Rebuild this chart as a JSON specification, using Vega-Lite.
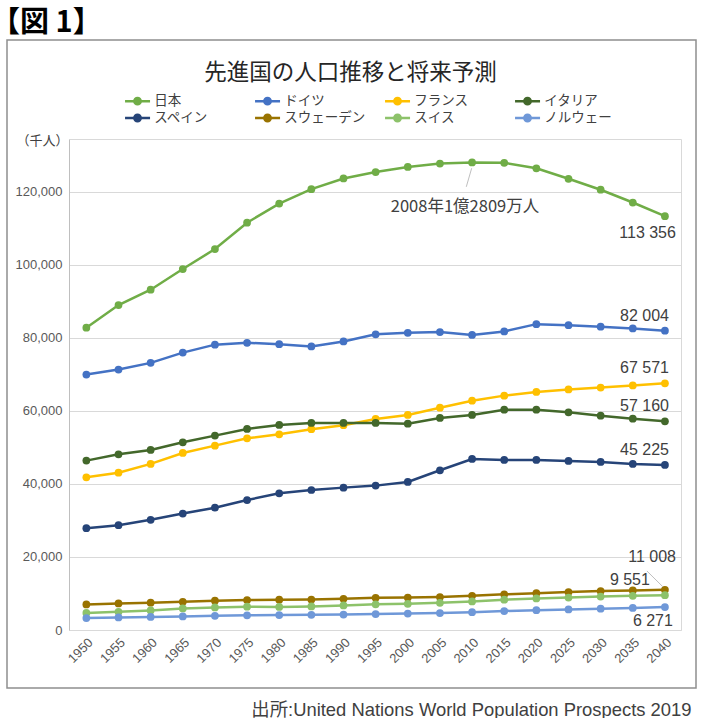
{
  "$schema": "https://vega.github.io/schema/vega-lite/v6.json",
  "width": 689,
  "height": 648,
  "autosize": "none",
  "padding": {"left": 7, "top": 40, "right": 7, "bottom": 30},
  "background": "white",
  "config": {
    "view": {"stroke": "#8f8f8f", "strokeWidth": 1.5},
    "font": "Noto Sans CJK JP"
  },
  "title": {
    "text": "【図 1】",
    "anchor": "start",
    "frame": "group",
    "font": "Noto Sans CJK JP",
    "fontSize": 29,
    "fontWeight": "bold",
    "color": "#000000",
    "baseline": "middle",
    "offset": 19,
    "dx": -16,
    "dy": 31
  },
  "datasets": {
    "pop": [
      {"country": "日本", "year": 1950, "value": 82802}, {"country": "日本", "year": 1955, "value": 89016}, {"country": "日本", "year": 1960, "value": 93216}, {"country": "日本", "year": 1965, "value": 98883}, {"country": "日本", "year": 1970, "value": 104345}, {"country": "日本", "year": 1975, "value": 111574}, {"country": "日本", "year": 1980, "value": 116807}, {"country": "日本", "year": 1985, "value": 120755}, {"country": "日本", "year": 1990, "value": 123686}, {"country": "日本", "year": 1995, "value": 125439}, {"country": "日本", "year": 2000, "value": 126843}, {"country": "日本", "year": 2005, "value": 127773}, {"country": "日本", "year": 2010, "value": 128070}, {"country": "日本", "year": 2015, "value": 127985}, {"country": "日本", "year": 2020, "value": 126476}, {"country": "日本", "year": 2025, "value": 123600}, {"country": "日本", "year": 2030, "value": 120600}, {"country": "日本", "year": 2035, "value": 117100}, {"country": "日本", "year": 2040, "value": 113356},
      {"country": "ドイツ", "year": 1950, "value": 69966}, {"country": "ドイツ", "year": 1955, "value": 71350}, {"country": "ドイツ", "year": 1960, "value": 73180}, {"country": "ドイツ", "year": 1965, "value": 75991}, {"country": "ドイツ", "year": 1970, "value": 78169}, {"country": "ドイツ", "year": 1975, "value": 78674}, {"country": "ドイツ", "year": 1980, "value": 78289}, {"country": "ドイツ", "year": 1985, "value": 77685}, {"country": "ドイツ", "year": 1990, "value": 79054}, {"country": "ドイツ", "year": 1995, "value": 81000}, {"country": "ドイツ", "year": 2000, "value": 81401}, {"country": "ドイツ", "year": 2005, "value": 81602}, {"country": "ドイツ", "year": 2010, "value": 80827}, {"country": "ドイツ", "year": 2015, "value": 81787}, {"country": "ドイツ", "year": 2020, "value": 83784}, {"country": "ドイツ", "year": 2025, "value": 83500}, {"country": "ドイツ", "year": 2030, "value": 83100}, {"country": "ドイツ", "year": 2035, "value": 82600}, {"country": "ドイツ", "year": 2040, "value": 82004},
      {"country": "フランス", "year": 1950, "value": 41842}, {"country": "フランス", "year": 1955, "value": 43100}, {"country": "フランス", "year": 1960, "value": 45500}, {"country": "フランス", "year": 1965, "value": 48500}, {"country": "フランス", "year": 1970, "value": 50500}, {"country": "フランス", "year": 1975, "value": 52500}, {"country": "フランス", "year": 1980, "value": 53600}, {"country": "フランス", "year": 1985, "value": 55000}, {"country": "フランス", "year": 1990, "value": 56100}, {"country": "フランス", "year": 1995, "value": 57800}, {"country": "フランス", "year": 2000, "value": 58900}, {"country": "フランス", "year": 2005, "value": 60900}, {"country": "フランス", "year": 2010, "value": 62800}, {"country": "フランス", "year": 2015, "value": 64200}, {"country": "フランス", "year": 2020, "value": 65200}, {"country": "フランス", "year": 2025, "value": 65900}, {"country": "フランス", "year": 2030, "value": 66400}, {"country": "フランス", "year": 2035, "value": 67000}, {"country": "フランス", "year": 2040, "value": 67571},
      {"country": "イタリア", "year": 1950, "value": 46400}, {"country": "イタリア", "year": 1955, "value": 48140}, {"country": "イタリア", "year": 1960, "value": 49320}, {"country": "イタリア", "year": 1965, "value": 51420}, {"country": "イタリア", "year": 1970, "value": 53250}, {"country": "イタリア", "year": 1975, "value": 55070}, {"country": "イタリア", "year": 1980, "value": 56170}, {"country": "イタリア", "year": 1985, "value": 56720}, {"country": "イタリア", "year": 1990, "value": 56720}, {"country": "イタリア", "year": 1995, "value": 56720}, {"country": "イタリア", "year": 2000, "value": 56500}, {"country": "イタリア", "year": 2005, "value": 58100}, {"country": "イタリア", "year": 2010, "value": 58900}, {"country": "イタリア", "year": 2015, "value": 60360}, {"country": "イタリア", "year": 2020, "value": 60360}, {"country": "イタリア", "year": 2025, "value": 59640}, {"country": "イタリア", "year": 2030, "value": 58720}, {"country": "イタリア", "year": 2035, "value": 57900}, {"country": "イタリア", "year": 2040, "value": 57160},
      {"country": "スペイン", "year": 1950, "value": 27900}, {"country": "スペイン", "year": 1955, "value": 28700}, {"country": "スペイン", "year": 1960, "value": 30200}, {"country": "スペイン", "year": 1965, "value": 31900}, {"country": "スペイン", "year": 1970, "value": 33500}, {"country": "スペイン", "year": 1975, "value": 35600}, {"country": "スペイン", "year": 1980, "value": 37450}, {"country": "スペイン", "year": 1985, "value": 38350}, {"country": "スペイン", "year": 1990, "value": 39000}, {"country": "スペイン", "year": 1995, "value": 39550}, {"country": "スペイン", "year": 2000, "value": 40550}, {"country": "スペイン", "year": 2005, "value": 43750}, {"country": "スペイン", "year": 2010, "value": 46850}, {"country": "スペイン", "year": 2015, "value": 46580}, {"country": "スペイン", "year": 2020, "value": 46580}, {"country": "スペイン", "year": 2025, "value": 46300}, {"country": "スペイン", "year": 2030, "value": 46030}, {"country": "スペイン", "year": 2035, "value": 45500}, {"country": "スペイン", "year": 2040, "value": 45225},
      {"country": "スウェーデン", "year": 1950, "value": 7010}, {"country": "スウェーデン", "year": 1955, "value": 7262}, {"country": "スウェーデン", "year": 1960, "value": 7480}, {"country": "スウェーデン", "year": 1965, "value": 7734}, {"country": "スウェーデン", "year": 1970, "value": 8043}, {"country": "スウェーデン", "year": 1975, "value": 8193}, {"country": "スウェーデン", "year": 1980, "value": 8311}, {"country": "スウェーデン", "year": 1985, "value": 8351}, {"country": "スウェーデン", "year": 1990, "value": 8559}, {"country": "スウェーデン", "year": 1995, "value": 8827}, {"country": "スウェーデン", "year": 2000, "value": 8872}, {"country": "スウェーデン", "year": 2005, "value": 9030}, {"country": "スウェーデン", "year": 2010, "value": 9382}, {"country": "スウェーデン", "year": 2015, "value": 9765}, {"country": "スウェーデン", "year": 2020, "value": 10099}, {"country": "スウェーデン", "year": 2025, "value": 10400}, {"country": "スウェーデン", "year": 2030, "value": 10650}, {"country": "スウェーデン", "year": 2035, "value": 10850}, {"country": "スウェーデン", "year": 2040, "value": 11008},
      {"country": "スイス", "year": 1950, "value": 4668}, {"country": "スイス", "year": 1955, "value": 4979}, {"country": "スイス", "year": 1960, "value": 5363}, {"country": "スイス", "year": 1965, "value": 5912}, {"country": "スイス", "year": 1970, "value": 6181}, {"country": "スイス", "year": 1975, "value": 6374}, {"country": "スイス", "year": 1980, "value": 6319}, {"country": "スイス", "year": 1985, "value": 6471}, {"country": "スイス", "year": 1990, "value": 6716}, {"country": "スイス", "year": 1995, "value": 7038}, {"country": "スイス", "year": 2000, "value": 7184}, {"country": "スイス", "year": 2005, "value": 7437}, {"country": "スイス", "year": 2010, "value": 7825}, {"country": "スイス", "year": 2015, "value": 8297}, {"country": "スイス", "year": 2020, "value": 8655}, {"country": "スイス", "year": 2025, "value": 8900}, {"country": "スイス", "year": 2030, "value": 9150}, {"country": "スイス", "year": 2035, "value": 9370}, {"country": "スイス", "year": 2040, "value": 9551},
      {"country": "ノルウェー", "year": 1950, "value": 3265}, {"country": "ノルウェー", "year": 1955, "value": 3427}, {"country": "ノルウェー", "year": 1960, "value": 3581}, {"country": "ノルウェー", "year": 1965, "value": 3723}, {"country": "ノルウェー", "year": 1970, "value": 3877}, {"country": "ノルウェー", "year": 1975, "value": 4007}, {"country": "ノルウェー", "year": 1980, "value": 4086}, {"country": "ノルウェー", "year": 1985, "value": 4153}, {"country": "ノルウェー", "year": 1990, "value": 4241}, {"country": "ノルウェー", "year": 1995, "value": 4359}, {"country": "ノルウェー", "year": 2000, "value": 4491}, {"country": "ノルウェー", "year": 2005, "value": 4624}, {"country": "ノルウェー", "year": 2010, "value": 4889}, {"country": "ノルウェー", "year": 2015, "value": 5200}, {"country": "ノルウェー", "year": 2020, "value": 5421}, {"country": "ノルウェー", "year": 2025, "value": 5620}, {"country": "ノルウェー", "year": 2030, "value": 5830}, {"country": "ノルウェー", "year": 2035, "value": 6060}, {"country": "ノルウェー", "year": 2040, "value": 6271}
    ]
  },
  "encoding": {
    "x": {"field": "year", "type": "quantitative", "scale": {"domain": [1947.3, 2042.5], "range": [62, 674], "nice": false, "zero": false}, "axis": null},
    "y": {
      "field": "value", "type": "quantitative",
      "scale": {"domain": [0, 134500], "range": [590, 99], "nice": false, "zero": false},
      "axis": {
        "orient": "left", "offset": -62,
        "values": [0, 20000, 40000, 60000, 80000, 100000, 120000],
        "format": ",.0f", "labelFont": "Liberation Sans", "labelFontSize": 13, "labelColor": "#595959", "labelPadding": 7,
        "ticks": false, "domain": true, "domainColor": "#bfbfbf", "domainWidth": 1,
        "grid": true, "gridColor": "#d9d9d9", "gridWidth": 1,
        "title": "（千人）", "titleAngle": 0, "titleX": -27, "titleY": 100, "titleAlign": "center", "titleBaseline": "middle",
        "titleFont": "Noto Sans CJK JP", "titleFontSize": 13, "titleFontWeight": "normal", "titleColor": "#404040"
      }
    }
  },
  "resolve": {"axis": {"x": "independent"}},
  "layer": [
    {
      "data": {"name": "pop"},
      "mark": {"type": "line", "strokeWidth": 2.5, "point": {"filled": true, "size": 60, "opacity": 1}},
      "encoding": {
        "x": {
          "field": "year", "type": "quantitative",
          "scale": {"domain": [1947.3, 2042.5], "range": [62, 674], "nice": false, "zero": false},
          "axis": {
            "orient": "bottom", "offset": -58,
            "values": [1950, 1955, 1960, 1965, 1970, 1975, 1980, 1985, 1990, 1995, 2000, 2005, 2010, 2015, 2020, 2025, 2030, 2035, 2040],
            "format": "d", "labelAngle": -45, "labelAlign": "right", "labelBaseline": "middle",
            "labelPadding": 10, "labelOffset": 4, "labelOverlap": false, "labelFlush": false,
            "labelFont": "Liberation Sans", "labelFontSize": 13, "labelColor": "#595959",
            "ticks": false, "grid": false, "domain": true, "domainColor": "#d9d9d9", "domainWidth": 1,
            "title": "出所:United Nations World Population Prospects 2019",
            "titleX": 684, "titleY": 79, "titleAlign": "right", "titleBaseline": "middle",
            "titleFont": "Liberation Sans, Noto Sans CJK JP", "titleFontSize": 18.4, "titleFontWeight": "normal", "titleColor": "#404040"
          }
        },
        "color": {
          "field": "country", "type": "nominal",
          "scale": {
            "domain": ["日本", "ドイツ", "フランス", "イタリア", "スペイン", "スウェーデン", "スイス", "ノルウェー"],
            "range": ["#70AD47", "#4472C4", "#FFC000", "#43682B", "#264478", "#997300", "#8DC26A", "#6F98D8"]
          },
          "legend": {
            "orient": "none", "legendX": 127.3, "legendY": 52.5, "title": null,
            "columns": 4, "direction": "horizontal", "gridAlign": "all",
            "columnPadding": 14, "rowPadding": 0, "padding": 0,
            "symbolType": "M-2.45,0L1,0M-0.29,0A0.44,0.44,0,1,1,-1.17,0A0.44,0.44,0,1,1,-0.29,0Z",
            "symbolSize": 210, "symbolStrokeWidth": 2.5,
            "labelFont": "Noto Sans CJK JP", "labelFontSize": 13.5, "labelColor": "#404040", "labelOffset": 3,
            "encode": {"symbols": {"update": {"fill": {"scale": "color", "field": "value"}, "stroke": {"scale": "color", "field": "value"}, "opacity": {"value": 1}}}}
          }
        }
      }
    },
    {
      "data": {"values": [
        {"year": 2009.94, "value": 126500, "year2": 2009.1, "value2": 121400},
        {"year": 2037.2, "value": 16160, "year2": 2039.7, "value2": 11800}
      ]},
      "mark": {"type": "rule", "color": "#bfbfbf", "strokeWidth": 1},
      "encoding": {
        "x2": {"field": "year2"},
        "y2": {"field": "value2"}
      }
    },
    {
      "data": {"values": [{"label": "113 356", "year": 2040, "value": 113356}]},
      "mark": {"type": "text", "align": "right", "baseline": "middle", "dx": 11, "dy": 17, "font": "Liberation Sans", "fontSize": 16, "color": "#404040"},
      "encoding": {"text": {"field": "label"}}
    },
    {
      "data": {"values": [
        {"label": "82 004", "year": 2040, "value": 82004},
        {"label": "67 571", "year": 2040, "value": 67571},
        {"label": "57 160", "year": 2040, "value": 57160},
        {"label": "45 225", "year": 2040, "value": 45225}
      ]},
      "mark": {"type": "text", "align": "right", "baseline": "middle", "dx": 4, "dy": -15, "font": "Liberation Sans", "fontSize": 16, "color": "#404040"},
      "encoding": {"text": {"field": "label"}}
    },
    {
      "data": {"values": [{"label": "11 008", "year": 2040, "value": 11008}]},
      "mark": {"type": "text", "align": "right", "baseline": "middle", "dx": 11, "dy": -33, "font": "Liberation Sans", "fontSize": 16, "color": "#404040"},
      "encoding": {"text": {"field": "label"}}
    },
    {
      "data": {"values": [{"label": "9 551", "year": 2040, "value": 9551}]},
      "mark": {"type": "text", "align": "right", "baseline": "middle", "dx": -15, "dy": -15, "font": "Liberation Sans", "fontSize": 16, "color": "#404040"},
      "encoding": {"text": {"field": "label"}}
    },
    {
      "data": {"values": [{"label": "6 271", "year": 2040, "value": 6271}]},
      "mark": {"type": "text", "align": "right", "baseline": "middle", "dx": 8, "dy": 14, "font": "Liberation Sans", "fontSize": 16, "color": "#404040"},
      "encoding": {"text": {"field": "label"}}
    },
    {
      "data": {"values": [{"label": "2008年1億2809万人", "year": 2008.9, "value": 116000}]},
      "mark": {"type": "text", "align": "center", "baseline": "middle", "font": "Noto Sans CJK JP", "fontSize": 16.5, "color": "#404040"},
      "encoding": {
        "text": {"field": "label"},
        "x": {
          "field": "year", "type": "quantitative",
          "scale": {"domain": [1947.3, 2042.5], "range": [62, 674], "nice": false, "zero": false},
          "axis": {
            "orient": "top", "offset": -99, "values": [2042.5],
            "labels": false, "ticks": false, "domain": true, "domainColor": "#d9d9d9", "domainWidth": 1,
            "grid": true, "gridColor": "#d9d9d9", "gridWidth": 1,
            "title": "先進国の人口推移と将来予測", "titleX": 343, "titleY": -67, "titleAlign": "center", "titleBaseline": "middle",
            "titleFont": "Noto Sans CJK JP", "titleFontSize": 22.5, "titleFontWeight": "normal", "titleColor": "#262626"
          }
        }
      }
    }
  ]
}
